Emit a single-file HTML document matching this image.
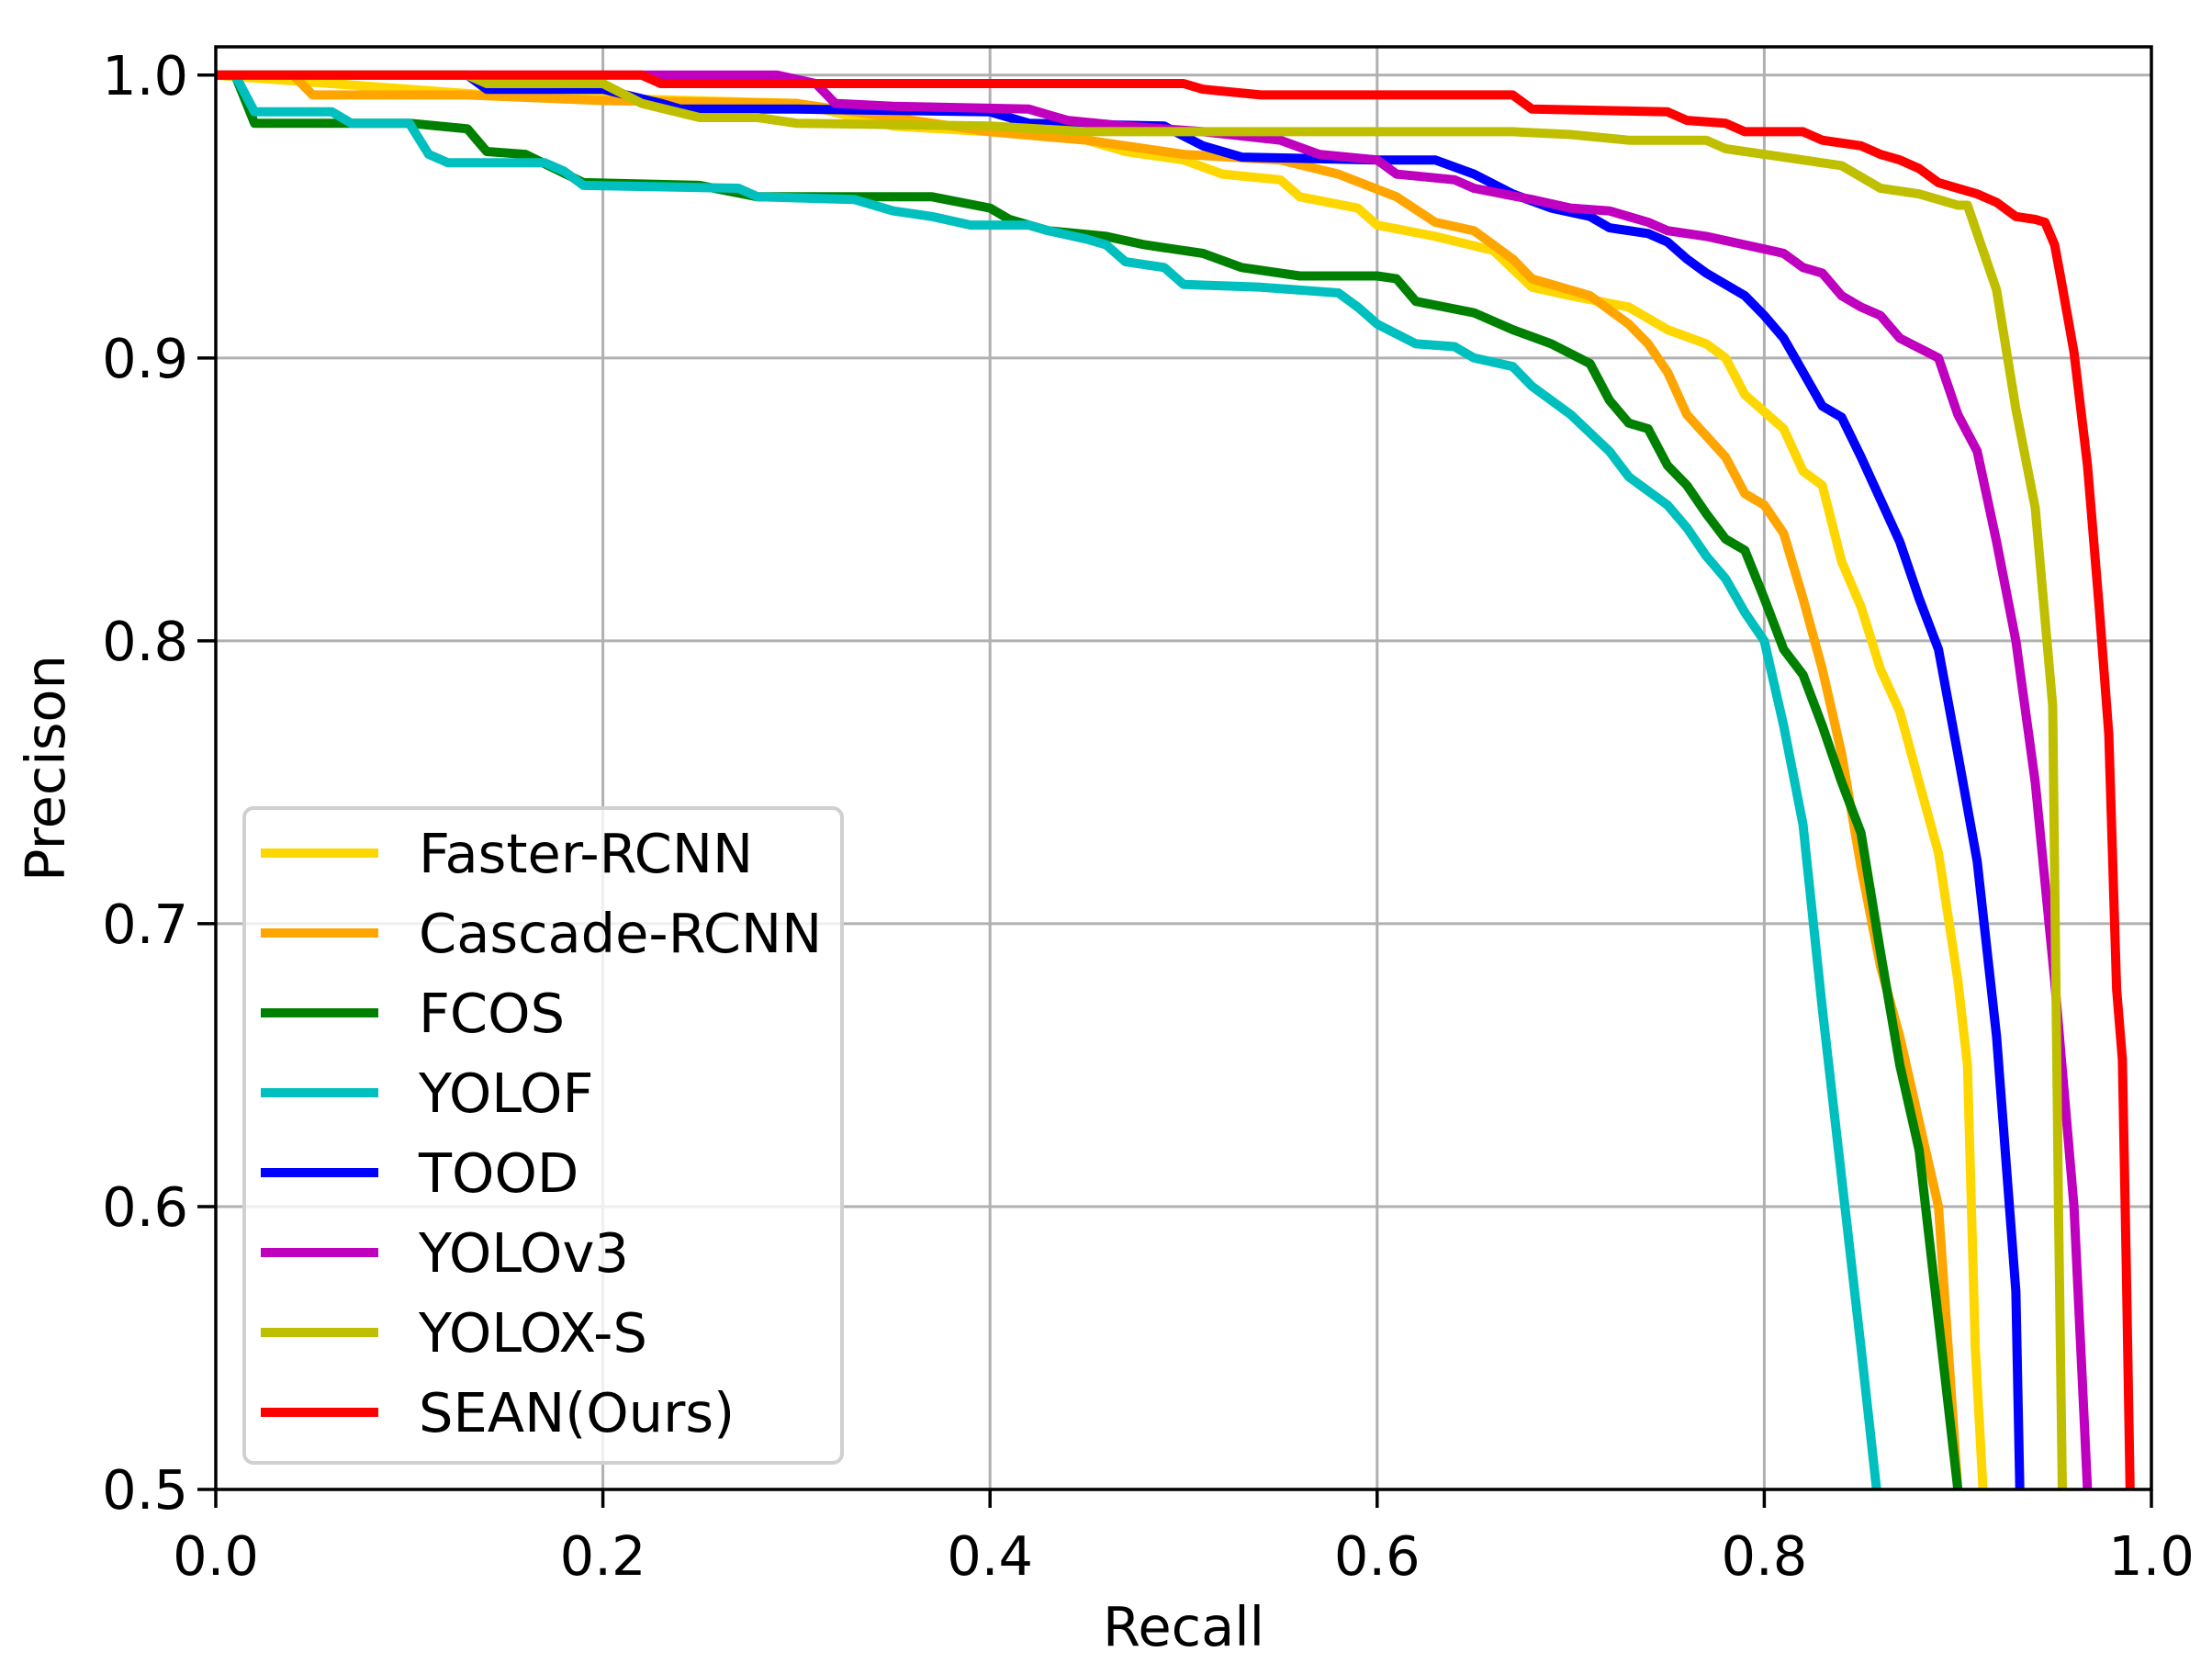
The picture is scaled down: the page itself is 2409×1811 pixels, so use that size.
<!DOCTYPE html>
<html><head><meta charset="utf-8"><style>
html,body{margin:0;padding:0;background:#fff;}
svg{display:block;font-family:"DejaVu Sans","Liberation Sans",sans-serif;}
</style></head><body>
<svg id="chart" width="2409" height="1811" viewBox="0 0 2409 1811" xmlns="http://www.w3.org/2000/svg">
<g id="grid"></g>
<g id="series"></g>
<g id="axes"></g>
<g id="legend"></g>
</svg>
<script>
const xTicks=[0.0,0.2,0.4,0.6,0.8,1.0];
const yTicks=[0.5,0.6,0.7,0.8,0.9,1.0];
const xTickLabels=["0.0","0.2","0.4","0.6","0.8","1.0"];
const yTickLabels=["0.5","0.6","0.7","0.8","0.9","1.0"];
const seriesNames=["Faster-RCNN","Cascade-RCNN","FCOS","YOLOF","TOOD","YOLOv3","YOLOX-S","SEAN(Ours)"];
const seriesColors=["#FFD700","#FFA500","#008000","#00BFBF","#0000FF","#BF00BF","#BFBF00","#FF0000"];
const fasterR=[0,0.14,0.3,0.35,0.4,0.45,0.47,0.5,0.52,0.55,0.56,0.59,0.6,0.63,0.66,0.68,0.7,0.73,0.75,0.77,0.78,0.79,0.81,0.82,0.83,0.84,0.85,0.86,0.87,0.88,0.89,0.9,0.905,0.909,0.913];
const fasterP=[1.0,0.993,0.99,0.982,0.98,0.977,0.973,0.97,0.965,0.963,0.957,0.953,0.947,0.943,0.938,0.925,0.922,0.918,0.91,0.905,0.9,0.887,0.875,0.86,0.855,0.828,0.812,0.79,0.775,0.75,0.725,0.68,0.65,0.55,0.5];
const cascadeR=[0,0.04,0.05,0.13,0.2,0.3,0.35,0.4,0.45,0.47,0.5,0.55,0.58,0.61,0.63,0.65,0.67,0.68,0.71,0.73,0.74,0.75,0.76,0.78,0.79,0.8,0.81,0.82,0.83,0.84,0.85,0.86,0.87,0.88,0.89,0.895,0.9];
const cascadeP=[1.0,1.0,0.993,0.993,0.991,0.99,0.985,0.98,0.977,0.975,0.972,0.97,0.965,0.957,0.948,0.945,0.935,0.928,0.922,0.912,0.905,0.895,0.88,0.865,0.852,0.848,0.838,0.815,0.79,0.76,0.72,0.685,0.66,0.63,0.6,0.55,0.5];
const fcosR=[0,0.01,0.02,0.1,0.13,0.14,0.16,0.19,0.25,0.28,0.37,0.4,0.41,0.43,0.46,0.48,0.51,0.53,0.56,0.6,0.61,0.62,0.65,0.67,0.69,0.71,0.72,0.73,0.74,0.75,0.76,0.77,0.78,0.79,0.8,0.81,0.82,0.83,0.84,0.85,0.86,0.87,0.88,0.89,0.9];
const fcosP=[1.0,1.0,0.983,0.983,0.981,0.973,0.972,0.962,0.961,0.957,0.957,0.953,0.949,0.945,0.943,0.94,0.937,0.932,0.929,0.929,0.928,0.92,0.916,0.91,0.905,0.898,0.885,0.877,0.875,0.862,0.855,0.845,0.836,0.832,0.815,0.797,0.788,0.77,0.75,0.732,0.69,0.65,0.62,0.56,0.5];
const yolofR=[0,0.01,0.02,0.06,0.07,0.1,0.11,0.12,0.17,0.18,0.19,0.27,0.28,0.33,0.35,0.37,0.39,0.42,0.43,0.45,0.46,0.47,0.49,0.5,0.54,0.58,0.59,0.6,0.62,0.64,0.65,0.67,0.68,0.7,0.72,0.73,0.75,0.76,0.77,0.78,0.79,0.8,0.81,0.82,0.83,0.84,0.85,0.858];
const yolofP=[1.0,1.0,0.987,0.987,0.983,0.983,0.972,0.969,0.969,0.966,0.961,0.96,0.957,0.956,0.952,0.95,0.947,0.947,0.945,0.942,0.94,0.934,0.932,0.926,0.925,0.923,0.918,0.912,0.905,0.904,0.9,0.897,0.89,0.88,0.867,0.858,0.848,0.84,0.83,0.822,0.81,0.8,0.77,0.735,0.67,0.61,0.55,0.5];
const toodR=[0,0.13,0.14,0.2,0.23,0.24,0.3,0.4,0.42,0.49,0.51,0.53,0.6,0.63,0.65,0.67,0.69,0.71,0.72,0.74,0.75,0.76,0.77,0.79,0.8,0.81,0.82,0.83,0.84,0.85,0.86,0.87,0.88,0.89,0.9,0.91,0.92,0.93,0.932];
const toodP=[1.0,1.0,0.995,0.995,0.99,0.988,0.988,0.987,0.983,0.982,0.975,0.971,0.97,0.97,0.965,0.958,0.953,0.95,0.946,0.944,0.941,0.935,0.93,0.922,0.915,0.907,0.895,0.883,0.879,0.865,0.85,0.835,0.815,0.797,0.76,0.722,0.66,0.57,0.5];
const yolov3R=[0,0.29,0.31,0.32,0.35,0.42,0.44,0.47,0.51,0.55,0.57,0.6,0.61,0.64,0.65,0.68,0.7,0.72,0.74,0.75,0.77,0.79,0.81,0.82,0.83,0.84,0.85,0.86,0.87,0.89,0.9,0.91,0.92,0.93,0.94,0.95,0.96,0.967];
const yolov3P=[1.0,1.0,0.997,0.99,0.989,0.988,0.984,0.982,0.98,0.977,0.972,0.97,0.965,0.963,0.96,0.956,0.953,0.952,0.948,0.945,0.943,0.94,0.937,0.932,0.93,0.922,0.918,0.915,0.907,0.9,0.88,0.867,0.835,0.8,0.75,0.68,0.6,0.5];
const yoloxR=[0,0.13,0.14,0.2,0.22,0.25,0.28,0.3,0.4,0.45,0.67,0.7,0.73,0.77,0.78,0.8,0.82,0.84,0.86,0.88,0.89,0.9,0.905,0.92,0.93,0.94,0.949,0.952,0.954];
const yoloxP=[1.0,1.0,0.997,0.997,0.99,0.985,0.985,0.983,0.982,0.98,0.98,0.979,0.977,0.977,0.974,0.972,0.97,0.968,0.96,0.958,0.956,0.954,0.954,0.924,0.882,0.847,0.777,0.6,0.5];
const seanR=[0,0.22,0.23,0.5,0.51,0.54,0.67,0.68,0.75,0.76,0.78,0.79,0.82,0.83,0.85,0.86,0.87,0.88,0.89,0.91,0.92,0.93,0.94,0.945,0.95,0.953,0.96,0.967,0.973,0.978,0.982,0.985,0.987,0.989];
const seanP=[1.0,1.0,0.997,0.997,0.995,0.993,0.993,0.988,0.987,0.984,0.983,0.98,0.98,0.977,0.975,0.972,0.97,0.967,0.962,0.958,0.955,0.95,0.949,0.948,0.94,0.929,0.902,0.862,0.812,0.767,0.677,0.652,0.58,0.5];

const seriesR=[fasterR,cascadeR,fcosR,yolofR,toodR,yolov3R,yoloxR,seanR];
const seriesP=[fasterP,cascadeP,fcosP,yolofP,toodP,yolov3P,yoloxP,seanP];

const L=235,R=2343,T=51,B=1622;
const X0=0,X1=1,Y0=0.5,Y1=1.01;
function sx(v){return L+(v-X0)/(X1-X0)*(R-L);}
function sy(v){return B-(v-Y0)/(Y1-Y0)*(B-T);}
const NS="http://www.w3.org/2000/svg";
function mk(tag,attrs,parent){const e=document.createElementNS(NS,tag);for(const k in attrs)e.setAttribute(k,attrs[k]);parent.appendChild(e);return e;}
const grid=document.getElementById('grid'),ser=document.getElementById('series'),axes=document.getElementById('axes'),leg=document.getElementById('legend');
const FS=59;
xTicks.forEach((t,i)=>{
  const g=mk('line',{x1:sx(t),x2:sx(t),y1:T,y2:B,stroke:'#b0b0b0','stroke-width':3},grid);
  
  
  const tk=mk('line',{x1:sx(t),x2:sx(t),y1:B,y2:B+20,stroke:'#000','stroke-width':3.5},axes);
  
  
  const tx=mk('text',{x:sx(t),y:B+93,'font-size':FS,'text-anchor':'middle',fill:'#000'},axes);
  tx.textContent=xTickLabels[i];
  
  
});
yTicks.forEach((t,i)=>{
  const g=mk('line',{x1:L,x2:R,y1:sy(t),y2:sy(t),stroke:'#b0b0b0','stroke-width':3},grid);
  
  
  const tk=mk('line',{x1:L-20,x2:L,y1:sy(t),y2:sy(t),stroke:'#000','stroke-width':3.5},axes);
  
  
  const tx=mk('text',{x:L-30,y:sy(t)+21,'font-size':FS,'text-anchor':'end',fill:'#000'},axes);
  tx.textContent=yTickLabels[i];
  
  
});

const clip=mk('clipPath',{id:'plotclip'},document.getElementById('chart'));
mk('rect',{x:L,y:T,width:R-L,height:B-T},clip);
ser.setAttribute('clip-path','url(#plotclip)');
seriesR.forEach((rs,i)=>{
  const ps=seriesP[i];
  const d=rs.map((r,j)=>(j?'L':'M')+sx(r).toFixed(1)+','+sy(ps[j]).toFixed(1)).join(' ');
  const p=mk('path',{d:d,fill:'none',stroke:seriesColors[i],'stroke-width':10,'stroke-linejoin':'round'},ser);
  
  
});

const frame=mk('rect',{x:L,y:T,width:R-L,height:B-T,fill:'none',stroke:'#000','stroke-width':3.5},axes);


const xl=mk('text',{x:(L+R)/2,y:1792,'font-size':FS,'text-anchor':'middle',fill:'#000'},axes);
xl.textContent='Recall';


const yl=mk('text',{x:0,y:0,'font-size':FS,'text-anchor':'middle',fill:'#000',transform:'translate(70,'+((T+B)/2)+') rotate(-90)'},axes);
yl.textContent='Precison';



const box=mk('rect',{x:266,y:880,width:651,height:713,rx:10,fill:'#fff','fill-opacity':0.8,stroke:'#d0d0d0','stroke-width':4},leg);


seriesNames.forEach((n,i)=>{
  const y=929+i*87;
  const ln=mk('line',{x1:284,x2:412,y1:y,y2:y,stroke:seriesColors[i],'stroke-width':10},leg);
  
  
  const tx=mk('text',{x:456,y:y+21,'font-size':FS,fill:'#000'},leg);
  tx.textContent=n;
  
  
});
</script>
</body></html>
